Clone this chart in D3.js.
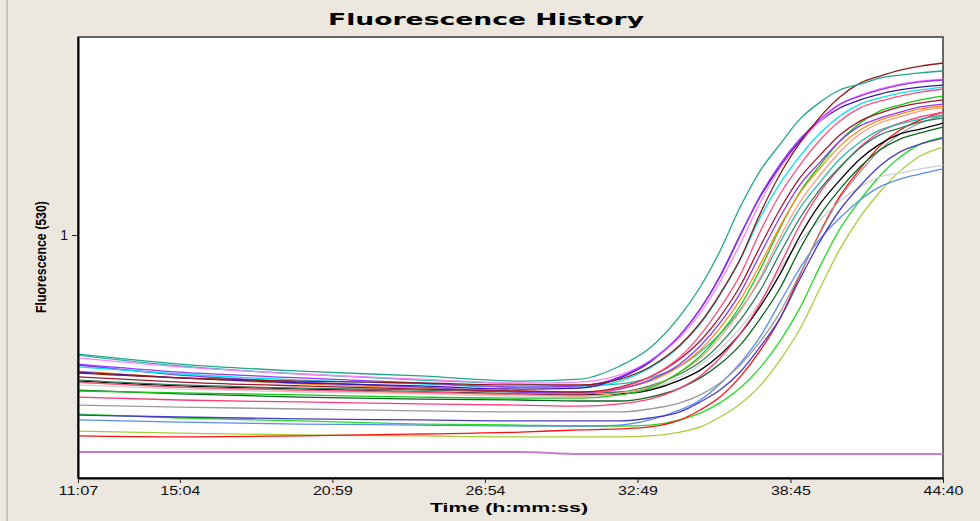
<!DOCTYPE html>
<html>
<head>
<meta charset="utf-8">
<script src="https://cdn.jsdelivr.net/npm/d3@7/dist/d3.min.js"></script>
<style>
  body { margin: 0; background: #ECE7DF; }
  svg { display: block; }
</style>
</head>
<body>
<svg id="chart" width="980" height="521"></svg>
<script>
// sample times in seconds since start of run
const times = [667, 904, 1184, 1463, 1696, 1835, 1928, 1998, 2068, 2115, 2161, 2208, 2254, 2301, 2347, 2394, 2440, 2487, 2533, 2580, 2627, 2680];
const tickTimes = [667, 904, 1259, 1614, 1969, 2325, 2680];
const tickLabels = ["11:07", "15:04", "20:59", "26:54", "32:49", "38:45", "44:40"];
const yTicks = [1];

// fluorescence (530) per sample
const f01 = [.510,.469,.440,.420,.399,.407,.461,.535,.667,.786,.934,1.115,1.263,1.374,1.477,1.547,1.597,1.621,1.646,1.658,1.667,1.675];
const f02 = [.432,.412,.399,.391,.383,.383,.407,.457,.547,.638,.757,.901,1.086,1.251,1.379,1.486,1.568,1.625,1.654,1.679,1.695,1.708];
const f03 = [.469,.436,.412,.391,.374,.379,.416,.481,.588,.695,.827,.996,1.160,1.292,1.395,1.477,1.539,1.572,1.597,1.617,1.630,1.638];
const f04 = [.494,.457,.428,.407,.391,.395,.424,.481,.580,.679,.807,.963,1.132,1.276,1.379,1.469,1.535,1.576,1.601,1.621,1.634,1.642];
const f05 = [.436,.412,.391,.379,.366,.370,.412,.477,.588,.695,.831,1.000,1.156,1.284,1.387,1.469,1.523,1.556,1.580,1.597,1.609,1.617];
const f06 = [.457,.428,.403,.387,.374,.374,.399,.453,.543,.634,.753,.897,1.070,1.214,1.325,1.420,1.490,1.539,1.564,1.584,1.597,1.609];
const f07 = [.395,.374,.362,.354,.346,.346,.370,.416,.498,.588,.700,.835,1.012,1.169,1.288,1.391,1.469,1.523,1.551,1.572,1.588,1.601];
const f08 = [.416,.395,.379,.366,.358,.354,.374,.416,.490,.564,.663,.790,.951,1.107,1.235,1.329,1.412,1.469,1.502,1.527,1.543,1.556];
const f09 = [.465,.424,.395,.374,.354,.350,.366,.403,.469,.543,.638,.761,.918,1.074,1.206,1.300,1.387,1.449,1.481,1.506,1.527,1.539];
const f10 = [.440,.412,.387,.370,.358,.354,.370,.399,.461,.527,.617,.733,.877,1.037,1.173,1.276,1.366,1.432,1.473,1.498,1.519,1.531];
const f11 = [.358,.350,.342,.333,.329,.329,.342,.370,.436,.502,.593,.708,.856,1.029,1.177,1.288,1.387,1.461,1.510,1.535,1.556,1.572];
const f12 = [.395,.374,.362,.350,.342,.337,.350,.374,.436,.494,.580,.687,.823,.992,1.136,1.247,1.342,1.416,1.461,1.486,1.510,1.523];
const f13 = [.506,.461,.428,.403,.387,.379,.387,.412,.461,.519,.593,.691,.815,.971,1.111,1.218,1.313,1.383,1.432,1.457,1.477,1.494];
const f14 = [.403,.383,.370,.362,.354,.350,.354,.379,.428,.477,.551,.650,.770,.926,1.070,1.189,1.280,1.358,1.412,1.440,1.465,1.481];
const f15 = [.333,.321,.313,.305,.300,.296,.305,.325,.370,.420,.494,.593,.716,.877,1.041,1.177,1.276,1.362,1.424,1.461,1.486,1.506];
const f16 = [.399,.379,.366,.354,.346,.342,.346,.362,.403,.444,.506,.593,.704,.840,.996,1.128,1.226,1.313,1.374,1.416,1.436,1.461];
const f17 = [.362,.346,.333,.325,.321,.317,.317,.333,.370,.412,.469,.547,.654,.782,.942,1.082,1.189,1.280,1.350,1.395,1.420,1.444];
const f18 = [.259,.251,.243,.239,.235,.235,.235,.247,.272,.313,.362,.436,.539,.658,.819,.975,1.103,1.202,1.284,1.342,1.374,1.399];
const f19 = [.300,.292,.284,.276,.272,.272,.272,.284,.309,.342,.391,.465,.560,.683,.840,1.008,1.152,1.259,1.350,1.416,1.461,1.490];
const f20 = [.383,.366,.354,.346,.337,.337,.346,.366,.416,.465,.531,.617,.724,.860,.975,1.062,1.140,1.198,1.239,1.255,1.272,1.288];
const f21 = [.239,.230,.222,.218,.214,.214,.218,.239,.280,.321,.387,.473,.580,.724,.864,.984,1.070,1.144,1.198,1.230,1.251,1.272];
const f22 = [.173,.169,.173,.181,.189,.198,.202,.210,.239,.280,.333,.416,.523,.658,.835,1.012,1.160,1.272,1.366,1.432,1.473,1.506];
const f23 = [.263,.247,.235,.222,.218,.214,.214,.218,.239,.267,.309,.370,.453,.564,.700,.872,1.025,1.144,1.243,1.321,1.374,1.403];
const f24 = [.193,.185,.177,.173,.169,.169,.169,.173,.189,.210,.251,.305,.379,.486,.613,.782,.942,1.074,1.177,1.263,1.325,1.362];
const f25 = [.107,.107,.107,.107,.107,.099,.099,.099,.099,.099,.099,.099,.099,.099,.099,.099,.099,.099,.099,.099,.099,.099];

const series = [
  { values: f25, color: "#C77DCB", w: 2 },
  { values: f24, color: "#A6CE39" },
  { values: f23, color: "#22DD22" },
  { values: f22, color: "#FF1010" },
  { values: f21, color: "#5A8CF0" },
  { values: f20, color: "#CFCFCF" },
  { values: f19, color: "#9A9A9A" },
  { values: f18, color: "#4B3CC8" },
  { values: f17, color: "#0B6623" },
  { values: f16, color: "#000000" },
  { values: f15, color: "#FF3C78" },
  { values: f14, color: "#2E7D5A" },
  { values: f13, color: "#2CB5AC" },
  { values: f12, color: "#FF9A7A" },
  { values: f11, color: "#14C814" },
  { values: f10, color: "#FF8C1A" },
  { values: f09, color: "#8A3CE6" },
  { values: f08, color: "#A01830" },
  { values: f07, color: "#FF4F80" },
  { values: f06, color: "#00E5EE" },
  { values: f05, color: "#3A16B0" },
  { values: f04, color: "#FF80FF" },
  { values: f03, color: "#9933FF" },
  { values: f02, color: "#8B1C1C" },
  { values: f01, color: "#1FA88A" }
];

let margin = { left: 78, right: 37, top: 37, bottom: 43 }
  , width = 980 - margin.left - margin.right
  , height = 521 - margin.top - margin.bottom
  ;

let svg = d3.select("#chart");

svg.append("rect").attr("width", 980).attr("height", 521).attr("fill", "#ECE7DF");
svg.append("line").attr("x1", 7).attr("x2", 7).attr("y1", 0).attr("y2", 521)
  .attr("stroke", "#C9C2B9").attr("stroke-width", 2);

let x = d3.scaleLinear().domain([667, 2680]).range([margin.left, margin.left + width]);
let y = d3.scaleLinear().domain([0, 1.815]).range([margin.top + height, margin.top]);

// plot frame
svg.append("rect")
  .attr("x", margin.left).attr("y", margin.top)
  .attr("width", width).attr("height", height)
  .attr("fill", "#fff").attr("stroke", "#3a3a3a").attr("stroke-width", 1.5);

svg.append("clipPath").attr("id", "clip")
  .append("rect").attr("x", margin.left).attr("y", margin.top)
  .attr("width", width).attr("height", height);

let line = d3.line()
  .x((d, i) => x(times[i]))
  .y(d => y(d))
  .curve(d3.curveMonotoneX);

let g = svg.append("g").attr("clip-path", "url(#clip)");
series.forEach(s => {
  g.append("path")
    .datum(s.values)
    .attr("d", line)
    .attr("fill", "none")
    .attr("stroke", s.color)
    .attr("stroke-width", s.w || 1.3);
});

// axes
let xAxis = d3.axisBottom(x)
  .tickValues(tickTimes)
  .tickFormat((d, i) => tickLabels[i])
  .tickSize(5).tickSizeOuter(0).tickPadding(3);

let gx = svg.append("g").attr("transform", "translate(0," + (margin.top + height) + ")").call(xAxis);
gx.select(".domain").attr("stroke", "#000").attr("stroke-width", 2);
gx.selectAll(".tick line").attr("stroke", "#222");
gx.selectAll(".tick text")
  .attr("font-family", "Liberation Sans, Arial, sans-serif")
  .attr("font-size", 13).attr("fill", "#111")
  .attr("textLength", 40).attr("lengthAdjust", "spacingAndGlyphs");

let yAxis = d3.axisLeft(y).tickValues(yTicks).tickFormat(d3.format("d"))
  .tickSize(6).tickSizeOuter(0).tickPadding(4);
let gy = svg.append("g").attr("transform", "translate(" + margin.left + ",0)").call(yAxis);
gy.select(".domain").attr("stroke", "#000").attr("stroke-width", 2);
gy.selectAll(".tick line").attr("stroke", "#222");
gy.selectAll(".tick text")
  .attr("font-family", "Liberation Sans, Arial, sans-serif")
  .attr("font-size", 14).attr("fill", "#111");

// titles
svg.append("text")
  .attr("x", 486).attr("y", 25)
  .attr("text-anchor", "middle")
  .attr("font-family", "DejaVu Sans, Liberation Sans, sans-serif")
  .attr("font-weight", "bold").attr("font-size", 16)
  .attr("textLength", 316).attr("lengthAdjust", "spacingAndGlyphs")
  .text("Fluorescence History");

svg.append("text")
  .attr("x", 509).attr("y", 512)
  .attr("text-anchor", "middle")
  .attr("font-family", "Liberation Sans, Arial, sans-serif")
  .attr("font-weight", "bold").attr("font-size", 13)
  .attr("textLength", 158).attr("lengthAdjust", "spacingAndGlyphs")
  .text("Time (h:mm:ss)");

svg.append("text")
  .attr("transform", "translate(46,257) rotate(-90)")
  .attr("text-anchor", "middle")
  .attr("font-family", "Liberation Sans Narrow, Liberation Sans, sans-serif")
  .attr("font-weight", "bold").attr("font-size", 14)
  .attr("textLength", 112).attr("lengthAdjust", "spacingAndGlyphs")
  .text("Fluorescence (530)");
</script>
</body>
</html>
